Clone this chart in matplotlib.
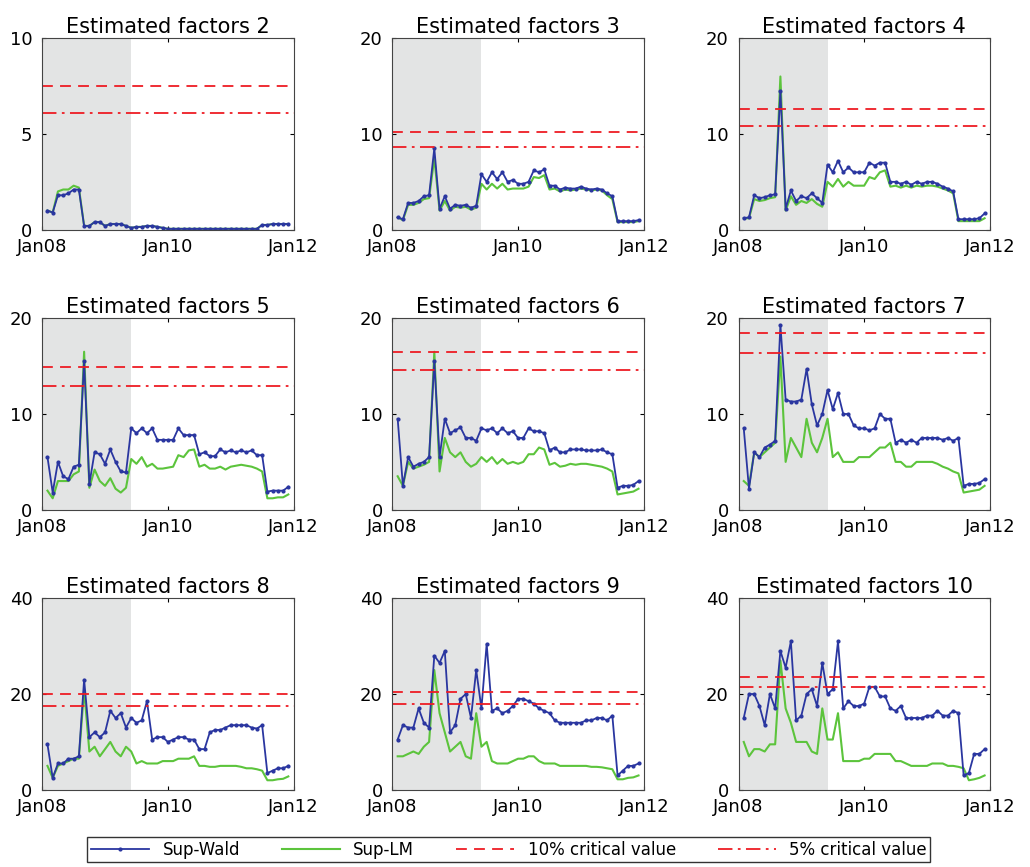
import numpy as np
import matplotlib.pyplot as plt
from matplotlib.lines import Line2D

titles = ["Estimated factors %d" % k for k in range(2, 11)]
ymax = [10, 20, 20, 20, 20, 20, 40, 40, 40]
yticks = [[0, 5, 10], [0, 10, 20], [0, 10, 20], [0, 10, 20], [0, 10, 20],
          [0, 10, 20], [0, 20, 40], [0, 20, 40], [0, 20, 40]]
cv10 = [7.5, 10.2, 12.6, 14.9, 16.5, 18.5, 20.0, 20.5, 23.5]
cv5 = [6.1, 8.6, 10.8, 12.9, 14.6, 16.4, 17.5, 18.0, 21.5]

wald = [
    [1.0, 0.9, 1.8, 1.8, 1.9, 2.1, 2.1, 0.2, 0.2, 0.4, 0.4, 0.2, 0.3, 0.3, 0.3, 0.2,
     0.1, 0.15, 0.15, 0.2, 0.2, 0.15, 0.1, 0.05, 0.05, 0.05, 0.05, 0.05, 0.05, 0.05,
     0.05, 0.05, 0.05, 0.05, 0.05, 0.05, 0.05, 0.05, 0.05, 0.05, 0.05, 0.25, 0.25, 0.3, 0.3, 0.3, 0.3],
    [1.3, 1.1, 2.8, 2.8, 3.0, 3.5, 3.6, 8.5, 2.2, 3.5, 2.2, 2.6, 2.5, 2.6, 2.3, 2.5,
     5.8, 5.0, 6.0, 5.3, 6.0, 5.0, 5.2, 4.8, 4.8, 5.0, 6.2, 6.0, 6.3, 4.6, 4.6, 4.2,
     4.4, 4.3, 4.3, 4.5, 4.3, 4.2, 4.3, 4.2, 3.8, 3.5, 0.9, 0.9, 0.9, 0.9, 1.0],
    [1.2, 1.3, 3.6, 3.3, 3.4, 3.6, 3.7, 14.5, 2.2, 4.1, 3.0, 3.5, 3.3, 3.8, 3.3, 2.8,
     6.8, 6.0, 7.2, 6.0, 6.5, 6.0, 6.0, 6.0, 7.0, 6.7, 7.0, 7.0, 5.0, 5.0, 4.8, 5.0,
     4.7, 5.0, 4.8, 5.0, 5.0, 4.8, 4.5, 4.3, 4.0, 1.1, 1.1, 1.1, 1.1, 1.2, 1.7],
    [5.5, 1.8, 5.0, 3.5, 3.2, 4.5, 4.7, 15.5, 2.7, 6.0, 5.8, 4.8, 6.3, 5.0, 4.0, 3.9,
     8.5, 8.0, 8.5, 8.0, 8.5, 7.3, 7.3, 7.3, 7.3, 8.5, 7.8, 7.8, 7.8, 5.8, 6.0, 5.6,
     5.6, 6.3, 6.0, 6.2, 6.0, 6.2, 6.0, 6.2, 5.7, 5.7, 1.9, 2.0, 2.0, 2.0, 2.4],
    [9.5, 2.5, 5.5, 4.5, 4.8, 5.0, 5.5, 15.5, 5.5, 9.5, 8.0, 8.3, 8.6, 7.5, 7.5, 7.2,
     8.5, 8.3, 8.5, 8.0, 8.5, 8.0, 8.2, 7.5, 7.5, 8.5, 8.2, 8.2, 8.0, 6.2, 6.5, 6.0,
     6.0, 6.3, 6.3, 6.3, 6.2, 6.2, 6.2, 6.3, 6.0, 5.8, 2.3, 2.5, 2.5, 2.6, 3.0],
    [8.5, 2.2, 6.0, 5.5, 6.5, 6.8, 7.2, 19.3, 11.5, 11.3, 11.3, 11.5, 14.7, 11.0, 8.8, 10.0,
     12.5, 10.5, 12.2, 10.0, 10.0, 8.8, 8.5, 8.5, 8.3, 8.5, 10.0, 9.5, 9.5, 7.0, 7.3, 7.0,
     7.3, 7.0, 7.5, 7.5, 7.5, 7.5, 7.3, 7.5, 7.2, 7.5, 2.5, 2.7, 2.7, 2.8, 3.2],
    [9.5, 2.5, 5.5, 5.5, 6.5, 6.5, 7.0, 23.0, 11.0, 12.0, 11.0, 12.0, 16.5, 15.0, 16.0, 13.0,
     15.0, 14.0, 14.5, 18.5, 10.5, 11.0, 11.0, 10.0, 10.5, 11.0, 11.0, 10.5, 10.5, 8.5, 8.5, 12.0,
     12.5, 12.5, 13.0, 13.5, 13.5, 13.5, 13.5, 13.0, 12.8, 13.5, 3.5, 4.0, 4.5, 4.5, 5.0],
    [10.5, 13.5, 13.0, 13.0, 17.0, 14.0, 13.0, 28.0, 26.5, 29.0, 12.0, 13.5, 19.0, 20.0, 15.0, 25.0,
     17.0, 30.5, 16.5, 17.0, 16.0, 16.5, 17.5, 19.0, 19.0, 18.5, 18.0, 17.0, 16.5, 16.0, 14.5, 14.0,
     14.0, 14.0, 14.0, 14.0, 14.5, 14.5, 15.0, 15.0, 14.5, 15.5, 3.0, 4.0, 5.0, 5.0, 5.5],
    [15.0, 20.0, 20.0, 17.5, 13.5, 20.0, 17.0, 29.0, 25.5, 31.0, 14.5, 15.5, 20.0, 21.0, 17.5, 26.5,
     20.0, 21.0, 31.0, 17.0, 18.5, 17.5, 17.5, 18.0, 21.5, 21.5, 19.5, 19.5, 17.0, 16.5, 17.5, 15.0,
     15.0, 15.0, 15.0, 15.5, 15.5, 16.5, 15.5, 15.5, 16.5, 16.0, 3.0, 3.5, 7.5, 7.5, 8.5],
]

lm = [
    [1.0, 0.9, 2.0, 2.1, 2.1, 2.3, 2.2, 0.2, 0.2, 0.4, 0.4, 0.2, 0.3, 0.3, 0.3, 0.2,
     0.1, 0.15, 0.15, 0.2, 0.2, 0.15, 0.1, 0.05, 0.05, 0.05, 0.05, 0.05, 0.05, 0.05,
     0.05, 0.05, 0.05, 0.05, 0.05, 0.05, 0.05, 0.05, 0.05, 0.05, 0.05, 0.25, 0.25, 0.3, 0.3, 0.3, 0.3],
    [1.3, 1.0, 2.6, 2.6, 2.8, 3.2, 3.3, 7.5, 2.0, 3.0, 2.0, 2.4, 2.3, 2.4, 2.1, 2.3,
     4.8, 4.2, 4.8, 4.3, 4.8, 4.2, 4.3, 4.3, 4.3, 4.5, 5.5, 5.4, 5.7, 4.2, 4.3, 4.0,
     4.2, 4.1, 4.2, 4.3, 4.2, 4.1, 4.2, 4.1, 3.6, 3.2, 0.8, 0.8, 0.8, 0.8, 0.9],
    [1.2, 1.2, 3.2, 3.0, 3.1, 3.3, 3.4, 16.0, 2.0, 3.5, 2.6, 3.0, 2.8, 3.2, 2.7, 2.4,
     5.0, 4.5, 5.3, 4.5, 5.0, 4.6, 4.6, 4.6, 5.5, 5.3, 6.0, 6.2, 4.5, 4.6, 4.4, 4.6,
     4.4, 4.6, 4.5, 4.6, 4.6, 4.5, 4.3, 4.1, 3.8, 0.9, 0.9, 0.9, 0.9, 0.9, 1.2],
    [2.0, 1.2, 3.0, 3.0, 3.0, 3.7, 4.0, 16.5, 2.3, 4.2, 3.0, 2.5, 3.3, 2.2, 1.8, 2.3,
     5.3, 4.8, 5.5, 4.5, 4.8, 4.3, 4.3, 4.4, 4.5, 5.7, 5.5, 6.2, 6.3, 4.5, 4.7, 4.3,
     4.3, 4.5, 4.2, 4.5, 4.6, 4.7, 4.6, 4.5, 4.3, 4.0, 1.2, 1.2, 1.3, 1.3, 1.6],
    [3.5, 2.5, 5.0, 4.3, 4.5, 4.7, 5.0, 16.5, 4.0, 7.5, 6.0, 5.5, 6.0, 5.0, 4.5, 4.8,
     5.5, 5.0, 5.5, 4.8, 5.3, 4.8, 5.0, 4.8, 5.0, 5.8, 5.8, 6.5, 6.3, 4.7, 4.9, 4.5,
     4.6, 4.8, 4.7, 4.8, 4.8, 4.7, 4.6, 4.5, 4.3, 4.0, 1.6, 1.7, 1.8, 1.9, 2.2],
    [3.0, 2.5, 6.0, 5.5, 6.0, 6.5, 7.0, 16.0, 5.0, 7.5, 6.5, 5.5, 9.5, 7.0, 6.0, 7.5,
     9.5, 5.5, 6.0, 5.0, 5.0, 5.0, 5.5, 5.5, 5.5, 6.0, 6.5, 6.5, 7.0, 5.0, 5.0, 4.5,
     4.5, 5.0, 5.0, 5.0, 5.0, 4.8, 4.5, 4.3, 4.0, 3.8, 1.8, 1.9, 2.0, 2.1, 2.5],
    [5.0, 2.5, 5.0, 5.5, 6.0, 6.5, 6.5, 21.0, 8.0, 9.0, 7.0, 8.5, 10.0, 8.0, 7.0, 9.0,
     8.0, 5.5, 6.0, 5.5, 5.5, 5.5, 6.0, 6.0, 6.0, 6.5, 6.5, 6.5, 7.0, 5.0, 5.0, 4.8,
     4.8, 5.0, 5.0, 5.0, 5.0, 4.8, 4.5, 4.5, 4.3, 4.0, 2.0, 2.0, 2.2, 2.3, 2.8],
    [7.0, 7.0, 7.5, 8.0, 7.5, 9.0, 10.0, 25.0, 16.0, 12.0, 8.0, 9.0, 10.0, 7.0, 6.5, 16.0,
     9.0, 10.0, 6.0, 5.5, 5.5, 5.5, 6.0, 6.5, 6.5, 7.0, 7.0, 6.0, 5.5, 5.5, 5.5, 5.0,
     5.0, 5.0, 5.0, 5.0, 5.0, 4.8, 4.8, 4.7, 4.5, 4.3, 2.2, 2.2, 2.5, 2.6, 3.0],
    [10.0, 7.0, 8.5, 8.5, 8.0, 9.5, 9.5, 27.0, 17.0, 14.0, 10.0, 10.0, 10.0, 8.0, 7.5, 17.0,
     10.5, 10.5, 16.0, 6.0, 6.0, 6.0, 6.0, 6.5, 6.5, 7.5, 7.5, 7.5, 7.5, 6.0, 6.0, 5.5,
     5.0, 5.0, 5.0, 5.0, 5.5, 5.5, 5.5, 5.0, 5.0, 4.8, 4.5, 2.0, 2.2, 2.5, 3.0],
]

months = np.arange(1, 48)  # months since Jan08
shade_end = 17.0

blue = "#2a36a0"
green = "#5cc43c"
red = "#ee1c24"

fig = plt.figure(figsize=(10.3, 8.67), dpi=100)
lefts = [0.041, 0.381, 0.717]
bottoms = [0.735, 0.412, 0.089]

for i in range(9):
    ax = fig.add_axes([lefts[i % 3], bottoms[i // 3], 0.244, 0.221])
    ax.axvspan(0, shade_end, color="#e3e4e4", lw=0)
    ax.plot(months, lm[i], color=green, lw=1.5)
    ax.plot(months, wald[i], color=blue, lw=1.3, marker=".", ms=4)
    ax.axhline(cv10[i], color=red, ls=(0, (6, 4)), lw=1.3)
    ax.axhline(cv5[i], color=red, ls=(0, (8, 3, 1.5, 3)), lw=1.3)
    ax.set_xlim(0, 48)
    ax.set_ylim(0, ymax[i])
    ax.set_xticks([0, 24, 48])
    ax.set_xticklabels(["Jan08", "Jan10", "Jan12"])
    ax.set_yticks(yticks[i])
    ax.tick_params(labelsize=13, direction="in", top=True, right=True, length=3)
    ax.tick_params(axis="y", pad=7)
    ax.tick_params(axis="x", pad=6)
    ax.set_title(titles[i], fontsize=15, pad=4)
    for s in ax.spines.values():
        s.set_color("#444444")

handles = [
    Line2D([], [], color=blue, lw=1.3, marker=".", ms=4),
    Line2D([], [], color=green, lw=1.5),
    Line2D([], [], color=red, ls=(0, (6, 4)), lw=1.3),
    Line2D([], [], color=red, ls=(0, (8, 3, 1.5, 3)), lw=1.3),
]
fig.legend(handles, ["Sup-Wald", "Sup-LM", "10% critical value", "5% critical value"],
           loc="lower center", bbox_to_anchor=(0.494, -0.004), ncol=4, fontsize=12,
           fancybox=False, edgecolor="black", handlelength=3.5, columnspacing=2.5,
           borderpad=0.2)

fig.savefig("out.png", dpi=100)
